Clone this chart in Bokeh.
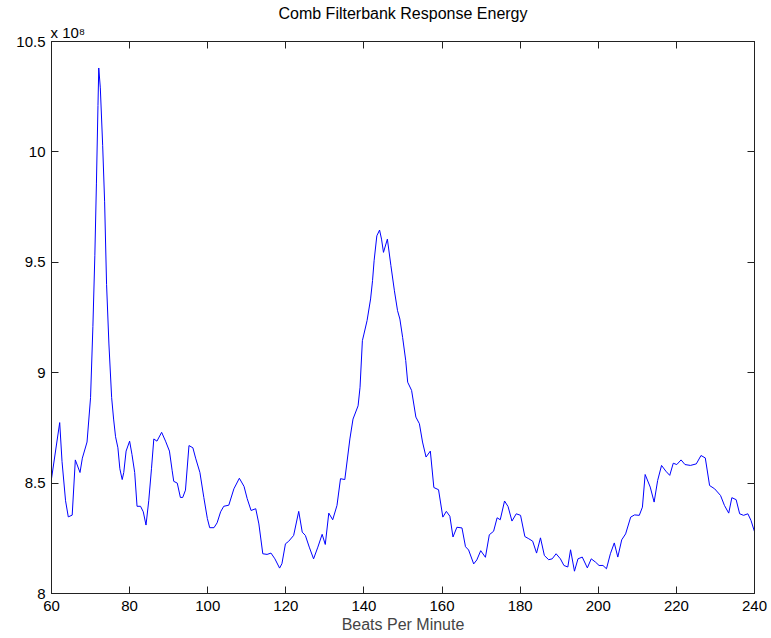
from bokeh.plotting import figure
from bokeh.models import (Range1d, FixedTicker, LinearAxis, NumeralTickFormatter,
                          CustomJSTickFormatter, Title)
from bokeh.embed import file_html
from bokeh.resources import INLINE

# Beats per minute (x) and response energy in units of 1e8 (y)
bpm = [60.0, 62.1, 62.7, 63.6, 64.3, 65.3, 66.1, 67.3, 67.9, 69.1, 70.0, 70.6, 71.1, 71.5, 71.9,
       72.1, 72.5, 73.1, 73.6, 74.1, 74.7, 75.4, 75.9, 76.4, 77.0, 77.5, 78.1, 78.5, 79.1, 80.0,
       80.6, 81.3, 81.9, 82.8, 83.5, 84.2, 84.9, 85.6, 86.2, 87.0, 88.2, 89.2, 90.2, 90.9, 91.3,
       92.2, 93.0, 93.6, 94.3, 95.2, 96.2, 96.9, 98.0, 99.0, 99.9, 100.5, 101.6, 102.4, 103.3,
       104.1, 105.4, 106.7, 108.1, 109.3, 110.1, 111.1, 112.3, 113.1, 114.1, 115.2, 116.2, 117.2,
       118.4, 119.0, 119.9, 120.7, 122.0, 123.3, 124.2, 125.0, 126.0, 127.1, 128.2, 129.3, 130.1,
       131.0, 132.0, 133.1, 134.0, 135.1, 136.4, 137.2, 138.5, 139.0, 139.6, 140.0, 140.8, 141.7,
       142.2, 142.6, 143.3, 144.0, 144.5, 145.0, 146.0, 146.9, 147.8, 148.6, 149.2, 149.9, 150.7,
       151.2, 152.2, 153.3, 154.2, 155.0, 155.9, 157.0, 157.9, 159.1, 160.2, 161.1, 162.0, 162.8,
       163.8, 165.1, 166.0, 166.8, 168.1, 168.9, 169.9, 171.1, 172.1, 173.2, 174.1, 174.9, 176.0,
       176.9, 177.9, 179.0, 180.1, 181.2, 182.2, 183.2, 184.2, 185.2, 186.2, 187.3, 188.2, 189.2,
       190.3, 191.2, 192.2, 192.9, 193.9, 194.8, 195.9, 197.2, 198.2, 199.3, 200.2, 201.2, 202.1,
       203.1, 204.1, 205.0, 206.0, 207.0, 208.3, 209.3, 210.5, 211.3, 212.0, 213.3, 214.3, 215.2,
       216.2, 217.3, 218.3, 219.2, 220.1, 221.2, 222.2, 223.6, 225.1, 226.3, 227.4, 228.5, 229.8,
       231.3, 232.3, 233.4, 234.2, 235.3, 236.2, 237.2, 238.3, 239.1, 240.0]

energy = [8.52, 8.774, 8.597, 8.42, 8.347, 8.355, 8.605, 8.548, 8.613, 8.686, 8.887, 9.21, 9.532,
          9.855, 10.21, 10.38, 10.29, 10.03, 9.774, 9.40, 9.13, 8.887, 8.79, 8.71, 8.66, 8.565,
          8.516, 8.548, 8.645, 8.69, 8.63, 8.548, 8.395, 8.395, 8.37, 8.31, 8.42, 8.565, 8.70,
          8.69, 8.73, 8.69, 8.645, 8.556, 8.508, 8.50, 8.435, 8.435, 8.468, 8.67, 8.66, 8.613,
          8.548, 8.435, 8.34, 8.298, 8.298, 8.32, 8.37, 8.395, 8.40, 8.474, 8.522, 8.485, 8.43,
          8.376, 8.384, 8.315, 8.18, 8.177, 8.183, 8.157, 8.115, 8.135, 8.225, 8.236, 8.263,
          8.372, 8.278, 8.263, 8.21, 8.157, 8.21, 8.268, 8.222, 8.364, 8.334, 8.399, 8.52, 8.516,
          8.70, 8.79, 8.85, 8.934, 9.145, 9.175, 9.236, 9.334, 9.417, 9.507, 9.62, 9.646, 9.605,
          9.545, 9.605, 9.485, 9.371, 9.281, 9.243, 9.16, 9.055, 8.957, 8.92, 8.799, 8.769, 8.686,
          8.618, 8.645, 8.48, 8.47, 8.346, 8.372, 8.35, 8.256, 8.30, 8.297, 8.212, 8.197, 8.134,
          8.152, 8.194, 8.164, 8.266, 8.282, 8.343, 8.334, 8.419, 8.394, 8.328, 8.361, 8.354,
          8.258, 8.248, 8.237, 8.183, 8.252, 8.172, 8.153, 8.157, 8.18, 8.157, 8.127, 8.12, 8.198,
          8.101, 8.157, 8.165, 8.116, 8.157, 8.142, 8.127, 8.127, 8.112, 8.18, 8.229, 8.165,
          8.243, 8.27, 8.346, 8.356, 8.354, 8.391, 8.539, 8.482, 8.414, 8.512, 8.58, 8.554, 8.535,
          8.59, 8.584, 8.605, 8.584, 8.58, 8.587, 8.625, 8.614, 8.489, 8.474, 8.444, 8.399, 8.364,
          8.434, 8.425, 8.361, 8.354, 8.361, 8.331, 8.28]

x_ticks = [60, 80, 100, 120, 140, 160, 180, 200, 220, 240]
y_ticks = [8, 8.5, 9, 9.5, 10, 10.5]

FONT = "Liberation Sans"

p = figure(width=771, height=638, output_backend="svg", toolbar_location=None,
           title=None,
           x_range=Range1d(60, 240), y_range=Range1d(8, 10.5),
           x_axis_label="Beats Per Minute",
           min_border_left=51, min_border_right=17, min_border_top=41, min_border_bottom=45)

p.background_fill_color = "white"
p.border_fill_color = "white"
p.outline_line_color = "#222222"
p.xgrid.visible = False
p.ygrid.visible = False

p.line(bpm, energy, line_color="#0000ff", line_width=1)

def style_axis(ax, ticks, show_labels=True):
    ax.ticker = FixedTicker(ticks=ticks)
    ax.major_tick_in = 7
    ax.major_tick_out = 0
    ax.minor_tick_in = 0
    ax.minor_tick_out = 0
    ax.axis_line_color = "#222222"
    ax.major_tick_line_color = "#222222"
    ax.major_label_text_font = FONT
    ax.major_label_text_color = "black"
    ax.major_label_text_font_size = "15px"
    if show_labels:
        ax.formatter = NumeralTickFormatter(format="0.[0]")
        ax.major_label_standoff = 6
    else:
        ax.formatter = CustomJSTickFormatter(code="return ''")
        ax.major_label_standoff = 0

style_axis(p.xaxis[0], x_ticks)
style_axis(p.yaxis[0], y_ticks)
p.xaxis[0].major_label_standoff = 7
p.xaxis[0].axis_label_text_font = FONT
p.xaxis[0].axis_label_text_font_size = "16px"
p.xaxis[0].axis_label_text_font_style = "normal"
p.xaxis[0].axis_label_standoff = 2

top_ax = LinearAxis()
style_axis(top_ax, x_ticks, show_labels=False)
p.add_layout(top_ax, "above")
right_ax = LinearAxis()
style_axis(right_ax, y_ticks, show_labels=False)
p.add_layout(right_ax, "right")

exp_title = Title(text="x 10\u2078", align="left", text_font=FONT, text_font_size="15px",
                  text_font_style="normal", text_color="black", standoff=1, offset=-1)
p.add_layout(exp_title, "above")
main_title = Title(text="Comb Filterbank Response Energy", align="center", text_font=FONT,
                   text_font_size="16px", text_font_style="normal", text_color="black",
                   standoff=0)
p.add_layout(main_title, "above")

open("out.html", "w").write(file_html(p, INLINE))
